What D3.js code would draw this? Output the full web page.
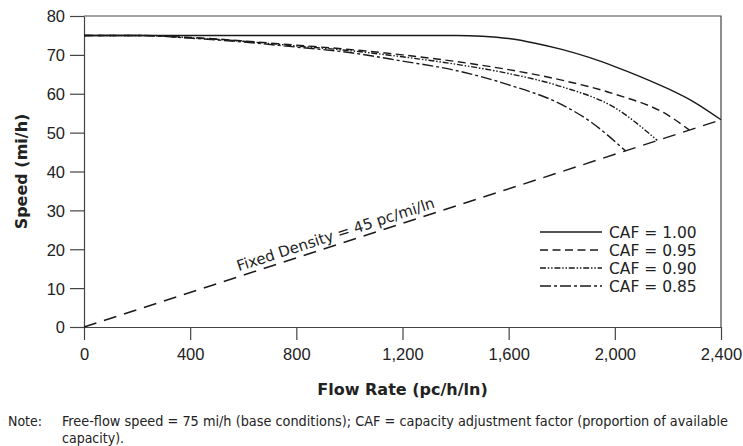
<!DOCTYPE html>
<html>
<head>
<meta charset="utf-8">
<script src="https://cdn.jsdelivr.net/npm/d3@7"></script>
<style>
  body { margin: 0; background: #fff; }
  svg { display: block; font-family: "DejaVu Sans", Verdana, sans-serif; }
  .axis path, .axis line { stroke: #444; stroke-width: 1.2; }
  .axis text { font-size: 16.5px; fill: #222; }
</style>
</head>
<body>
<div id="chart"></div>
<script>
// values
const xTicks = [0, 400, 800, 1200, 1600, 2000, 2400];
const yTicks = [0, 10, 20, 30, 40, 50, 60, 70, 80];

const flow100 = [0, 400, 800, 1200, 1400, 1500, 1600, 1700, 1800, 1900, 2000, 2100, 2200, 2300, 2400];
const speed100 = [75, 75, 75, 75, 75, 74.8, 74.2, 73.0, 71.4, 69.4, 67.0, 64.3, 61.3, 57.8, 53.3];

const flow95 = [0, 200, 400, 600, 800, 1000, 1200, 1400, 1600, 1800, 2000, 2200, 2280];
const speed95 = [75, 75, 74.5, 73.6, 72.5, 71.4, 70.0, 68.3, 66.2, 63.5, 59.9, 54.5, 50.7];

const flow90 = [0, 200, 400, 600, 800, 1000, 1200, 1400, 1600, 1800, 2000, 2160];
const speed90 = [75, 75, 74.4, 73.5, 72.3, 71.1, 69.5, 67.6, 65.2, 61.8, 56.4, 48.0];

const flow85 = [0, 200, 400, 600, 800, 1000, 1200, 1400, 1600, 1800, 1900, 2040];
const speed85 = [75, 75, 74.3, 73.3, 72.0, 70.6, 68.4, 66.0, 62.3, 57.2, 53.2, 45.3];

const densityFlow = [0, 2400];
const densitySpeed = [0, 53.3];

const cafLabels = ['CAF = 1.00', 'CAF = 0.95', 'CAF = 0.90', 'CAF = 0.85'];
const densityLabel = 'Fixed Density = 45 pc/mi/ln';
const noteLines = ['Free-flow speed = 75 mi/h (base conditions); CAF = capacity adjustment factor (proportion of available', 'capacity).'];

const width = 743, height = 446;
const margin = {top: 16, right: 22, bottom: 119, left: 84};

const x = d3.scaleLinear().domain([0, 2400]).range([margin.left, width - margin.right]);
const y = d3.scaleLinear().domain([0, 80]).range([height - margin.bottom, margin.top]);

const svg = d3.select('#chart').append('svg').attr('width', width).attr('height', height);

// frame (top and right)
svg.append('path')
    .attr('d', 'M' + x(0) + ',' + y(80) + 'H' + x(2400) + 'V' + y(0))
    .attr('fill', 'none').attr('stroke', '#444').attr('stroke-width', 1.2);

const xAxis = d3.axisBottom(x).tickValues(xTicks).tickFormat(d3.format(',')).tickSize(13).tickPadding(8).tickSizeOuter(0);
const yAxis = d3.axisLeft(y).tickValues(yTicks).tickSize(14).tickPadding(5).tickSizeOuter(0);

svg.append('g').attr('class', 'x axis').attr('transform', 'translate(0,' + y(0) + ')').call(xAxis);
svg.append('g').attr('class', 'y axis').attr('transform', 'translate(' + x(0) + ',0)').call(yAxis);
svg.selectAll('.y.axis text').attr('dy', '0.36em');

// axis titles
svg.append('text').attr('x', (x(0) + x(2400)) / 2).attr('y', 395)
    .attr('text-anchor', 'middle').attr('font-weight', 'bold').attr('font-size', 16).attr('fill', '#222')
    .text('Flow Rate (pc/h/ln)');
svg.append('text').attr('transform', 'translate(27,' + ((y(0) + y(80)) / 2) + ') rotate(-90)')
    .attr('text-anchor', 'middle').attr('font-weight', 'bold').attr('font-size', 16).attr('fill', '#222')
    .text('Speed (mi/h)');

// series
const series = [
    {flow: flow100, speed: speed100, dash: null},
    {flow: flow95, speed: speed95, dash: '8,4.5'},
    {flow: flow90, speed: speed90, dash: '6,1.8,1.5,1.8,1.5,1.8'},
    {flow: flow85, speed: speed85, dash: '11,3,3,3'}
];

const line = d3.line()
    .x((d) => x(d[0]))
    .y((d) => y(d[1]))
    .curve(d3.curveMonotoneX);

series.forEach((s) => {
    svg.append('path')
        .attr('d', line(s.flow.map((f, i) => [f, s.speed[i]])))
        .attr('fill', 'none').attr('stroke', '#1a1a1a').attr('stroke-width', 1.4)
        .attr('stroke-dasharray', s.dash);
});

// fixed density line
svg.append('path')
    .attr('d', d3.line().x((d) => x(d[0])).y((d) => y(d[1]))(densityFlow.map((f, i) => [f, densitySpeed[i]])))
    .attr('fill', 'none').attr('stroke', '#1a1a1a').attr('stroke-width', 1.5)
    .attr('stroke-dasharray', '13,8');

const angle = Math.atan2(y(densitySpeed[1]) - y(densitySpeed[0]), x(densityFlow[1]) - x(densityFlow[0])) * 180 / Math.PI;
const labelFlow = 960;
svg.append('text')
    .attr('transform', 'translate(' + x(labelFlow) + ',' + y(labelFlow * densitySpeed[1] / densityFlow[1]) + ') rotate(' + angle + ')')
    .attr('y', -5)
    .attr('text-anchor', 'middle').attr('font-size', 15).attr('fill', '#222')
    .text(densityLabel);

// legend
const legend = svg.append('g').attr('transform', 'translate(540,232)');
series.forEach((s, i) => {
    legend.append('line').attr('x1', 0).attr('x2', 62).attr('y1', i * 18).attr('y2', i * 18)
        .attr('stroke', '#1a1a1a').attr('stroke-width', 1.4).attr('stroke-dasharray', s.dash);
    legend.append('text').attr('x', 69).attr('y', i * 18).attr('dy', '0.36em')
        .attr('font-size', 15.5).attr('fill', '#222').text(cafLabels[i]);
});

// note
const note = svg.append('g').attr('font-family', '"DejaVu Sans Condensed", "DejaVu Sans", sans-serif')
    .attr('font-size', 14).attr('fill', '#222');
note.append('text').attr('x', 8).attr('y', 426).text('Note:');
noteLines.forEach((t, i) => {
    const tx = note.append('text').attr('x', 62).attr('y', 426 + i * 17).text(t);
    if (i === 0) tx.attr('textLength', 666).attr('lengthAdjust', 'spacingAndGlyphs');
});
</script>
</body>
</html>
